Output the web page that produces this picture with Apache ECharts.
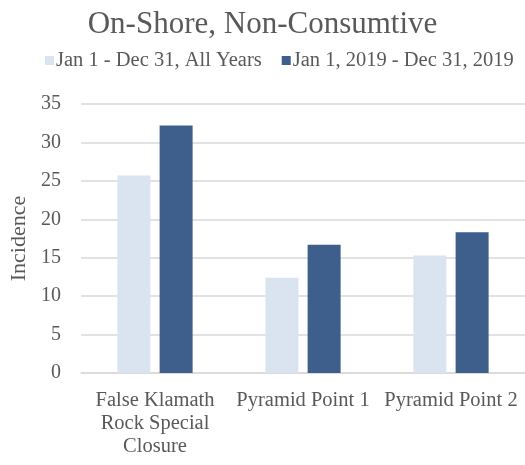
<!DOCTYPE html>
<html>
<head>
<meta charset="utf-8">
<script src="https://cdn.jsdelivr.net/npm/echarts@6/dist/echarts.min.js"></script>
<style>
  html, body { margin: 0; padding: 0; background: #fff; }
  #chart { width: 525px; height: 465px; }
</style>
</head>
<body>
<div id="chart"></div>
<script>
// Sites and incidence counts for each period
const categories = ['False Klamath\nRock Special\nClosure', 'Pyramid Point 1', 'Pyramid Point 2'];
const seriesNames = ['Jan 1 - Dec 31, All Years', 'Jan 1, 2019 - Dec 31, 2019'];
const allYears = [25.7, 12.4, 15.3];
const year2019 = [32.2, 16.7, 18.3];

const font = 'Liberation Serif';
const textColor = '#595959';

const chart = echarts.init(document.getElementById('chart'));
chart.setOption({
  animation: false,
  title: {
    text: 'On-Shore, Non-Consumtive',
    left: 'center',
    top: 4,
    textStyle: { fontFamily: font, fontSize: 31, fontWeight: 'normal', color: textColor }
  },
  legend: {
    top: 45,
    left: 40,
    itemWidth: 9,
    itemHeight: 9,
    itemGap: 20,
    icon: 'rect',
    textStyle: { fontFamily: font, fontSize: 20.5, color: textColor, padding: [0, 0, 0, -3] },
    data: seriesNames
  },
  grid: { left: 81, right: 0, top: 104, bottom: 92 },
  xAxis: {
    type: 'category',
    data: categories,
    axisTick: { show: false },
    axisLine: { lineStyle: { color: '#d9d9d9', width: 1.5 } },
    axisLabel: { fontFamily: font, fontSize: 20.5, color: textColor, lineHeight: 23, margin: 16, interval: 0 }
  },
  yAxis: {
    type: 'value',
    min: 0,
    max: 35,
    interval: 5,
    name: 'Incidence',
    nameLocation: 'middle',
    nameGap: 51,
    nameTextStyle: { fontFamily: font, fontSize: 22, color: textColor },
    axisLabel: { fontFamily: font, fontSize: 20, color: textColor, margin: 20 },
    splitLine: { lineStyle: { color: '#d9d9d9', width: 1.5 } }
  },
  series: [
    {
      name: seriesNames[0],
      type: 'bar',
      data: allYears,
      barWidth: 33,
      barGap: '28%',
      itemStyle: { color: '#dae3f0' }
    },
    {
      name: seriesNames[1],
      type: 'bar',
      data: year2019,
      barWidth: 33,
      itemStyle: { color: '#3e5e8c' }
    }
  ]
});
</script>
</body>
</html>
